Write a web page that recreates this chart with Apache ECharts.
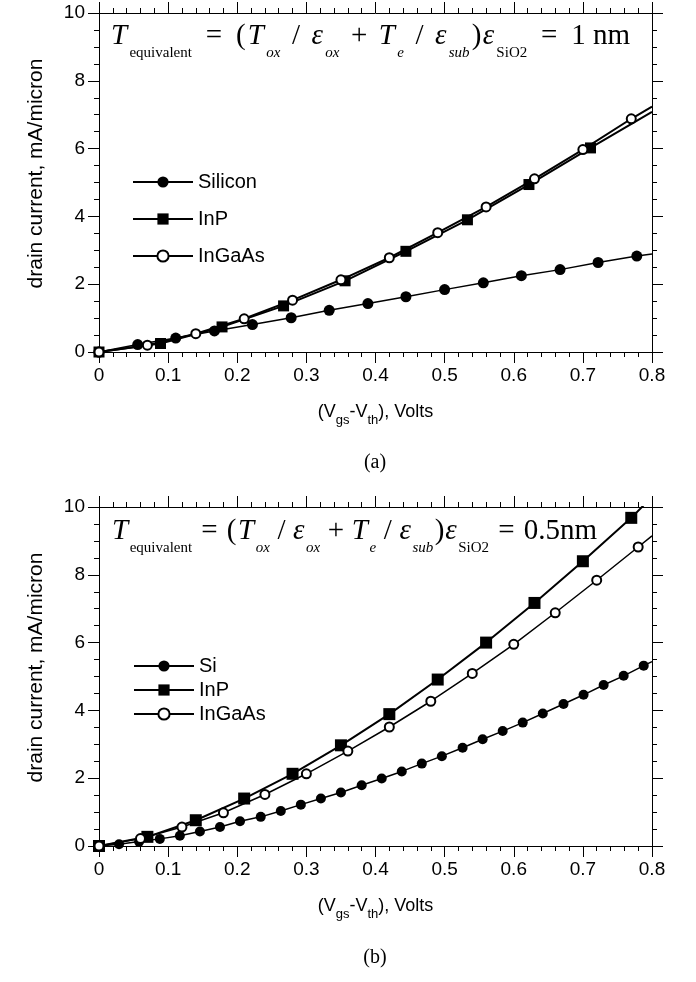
<!DOCTYPE html>
<html>
<head>
<meta charset="utf-8">
<script src="https://cdn.jsdelivr.net/npm/echarts@6/dist/echarts.min.js"></script>
<style>html,body{margin:0;padding:0;background:#fff;}#c{width:696px;height:982px;}</style>
</head>
<body>
<div id="c"></div>
<script>
// ---------- data: panel (a), Tequivalent = 1 nm ----------
const siA_x = [0, 0.056, 0.111, 0.167, 0.222, 0.278, 0.333, 0.389, 0.444, 0.5, 0.556, 0.611, 0.667, 0.722, 0.778];
const siA_y = [0, 0.22, 0.41, 0.62, 0.81, 1.01, 1.23, 1.43, 1.63, 1.84, 2.04, 2.25, 2.43, 2.64, 2.83];
const siA_end = [0.8, 2.89];
const inpA_x = [0, 0.089, 0.178, 0.267, 0.356, 0.444, 0.533, 0.622, 0.711];
const inpA_y = [0, 0.25, 0.74, 1.36, 2.10, 2.97, 3.90, 4.94, 6.02];
const inpA_end = [0.8, 7.08];
const ingaasA_x = [0, 0.07, 0.14, 0.21, 0.28, 0.35, 0.42, 0.49, 0.56, 0.63, 0.70, 0.77];
const ingaasA_y = [0, 0.20, 0.54, 0.98, 1.53, 2.13, 2.78, 3.52, 4.28, 5.11, 5.97, 6.88];
const ingaasA_end = [0.8, 7.24];

// ---------- data: panel (b), Tequivalent = 0.5 nm ----------
const siB_x = [0, 0.029, 0.058, 0.088, 0.117, 0.146, 0.175, 0.204, 0.234, 0.263, 0.292, 0.321, 0.350, 0.380, 0.409, 0.438, 0.467, 0.496, 0.526, 0.555, 0.584, 0.613, 0.642, 0.672, 0.701, 0.730, 0.759, 0.788];
const siB_y = [0, 0.05, 0.13, 0.21, 0.30, 0.43, 0.56, 0.73, 0.86, 1.03, 1.22, 1.40, 1.58, 1.79, 1.99, 2.20, 2.43, 2.65, 2.90, 3.15, 3.39, 3.64, 3.91, 4.19, 4.46, 4.75, 5.02, 5.32];
const siB_end = [0.8, 5.44];
const inpB_x = [0, 0.07, 0.14, 0.21, 0.28, 0.35, 0.42, 0.49, 0.56, 0.63, 0.70, 0.77];
const inpB_y = [0, 0.27, 0.76, 1.40, 2.13, 2.97, 3.89, 4.91, 6.00, 7.17, 8.40, 9.68];
const inpB_end = [0.8, 10.3];
const ingaasB_x = [0, 0.06, 0.12, 0.18, 0.24, 0.30, 0.36, 0.42, 0.48, 0.54, 0.60, 0.66, 0.72, 0.78];
const ingaasB_y = [0, 0.22, 0.56, 0.98, 1.52, 2.13, 2.80, 3.51, 4.27, 5.09, 5.95, 6.88, 7.84, 8.82];
const ingaasB_end = [0.8, 9.15];

// axis ranges / labels
const xRange = [0, 0.8], xStep = 0.1;
const yRange = [0, 10], yStep = 2;
const yAxisTitle = 'drain current, mA/micron';
const captions = ['(a)', '(b)'];

const SANS = '"Liberation Sans", Arial, sans-serif';
const SERIF = '"Liberation Serif", "Times New Roman", serif';

const chart = echarts.init(document.getElementById('c'), null, {renderer: 'canvas'});

const grids = [
  {left: 99, right: 44, top: 13, height: 339},
  {left: 99, right: 44, top: 507, height: 339}
];

function xAx(gi, pos) {
  const main = pos === 'bottom';
  return {
    type: 'value', gridIndex: gi, position: pos, min: xRange[0], max: xRange[1], interval: xStep,
    axisLine: {show: true, onZero: false, lineStyle: {color: '#000', width: 1}},
    axisTick: {show: true, inside: false, length: 11, lineStyle: {color: '#000', width: 1}},
    minorTick: {show: true, splitNumber: 5, length: 5, lineStyle: {color: '#000', width: 1}},
    splitLine: {show: false}, minorSplitLine: {show: false},
    axisLabel: {show: main, margin: 14, fontSize: 19, color: '#000', fontFamily: SANS},
    name: main ? '(V{s|gs}-V{s|th}), Volts' : '',
    nameLocation: 'middle', nameGap: 46,
    nameTextStyle: {fontSize: 18, color: '#000', fontFamily: SANS,
      rich: {s: {fontSize: 13, fontFamily: SANS, color: '#000', padding: [16, 0, 0, 0]}}}
  };
}
function yAx(gi, pos) {
  const main = pos === 'left';
  return {
    type: 'value', gridIndex: gi, position: pos, min: yRange[0], max: yRange[1], interval: yStep,
    axisLine: {show: true, onZero: false, lineStyle: {color: '#000', width: 1}},
    axisTick: {show: true, inside: false, length: 11, lineStyle: {color: '#000', width: 1}},
    minorTick: {show: true, splitNumber: 4, length: 5, lineStyle: {color: '#000', width: 1}},
    splitLine: {show: false}, minorSplitLine: {show: false},
    axisLabel: {show: main, margin: 14, fontSize: 19, color: '#000', fontFamily: SANS},
    name: main ? yAxisTitle : '', nameLocation: 'middle', nameGap: 52, nameRotate: 90,
    nameTextStyle: {fontSize: 21, color: '#000', fontFamily: SANS, padding: [0, 0, 0, 18]}
  };
}

function mk(name, xs, ys, end, gi, symbol, size, lw, z) {
  const data = xs.map((x, i) => [x, ys[i]]);
  data.push({value: end, symbol: 'none'});
  return {
    type: 'line', name: name, xAxisIndex: gi * 2, yAxisIndex: gi * 2, data: data,
    symbol: symbol, symbolSize: size, showSymbol: true, showAllSymbol: true, clip: true,
    lineStyle: {color: '#000', width: lw},
    itemStyle: {color: '#000', borderColor: '#000', borderWidth: symbol === 'emptyCircle' ? 1 : 0},
    emphasis: {disabled: true}, animation: false, z: z
  };
}

const series = [
  mk('Silicon', siA_x, siA_y, siA_end, 0, 'circle', 11, 1.5, 3),
  mk('InP', inpA_x, inpA_y, inpA_end, 0, 'rect', 11, 2, 2),
  mk('InGaAs', ingaasA_x, ingaasA_y, ingaasA_end, 0, 'emptyCircle', 9, 2, 4),
  mk('Si', siB_x, siB_y, siB_end, 1, 'circle', 10, 1.5, 3),
  mk('InP(b)', inpB_x, inpB_y, inpB_end, 1, 'rect', 12, 2, 2),
  mk('InGaAs(b)', ingaasB_x, ingaasB_y, ingaasB_end, 1, 'emptyCircle', 9, 1.5, 4)
];

// ---------- formula layout (measured) ----------
const mctx = document.createElement('canvas').getContext('2d');
function formula(tokens, x0, baseline, targetW) {
  let W = 0, G = 0;
  const ws = tokens.map((t, i) => {
    mctx.font = (t.it ? 'italic ' : '') + t.s + 'px "Liberation Serif"';
    const w = mctx.measureText(t.t).width;
    W += w; if (i > 0) G += t.g; return w;
  });
  const k = (targetW - W) / G;
  let x = x0;
  return tokens.map((t, i) => {
    if (i > 0) x += t.g * k;
    const el = {
      type: 'text', x: x, y: baseline + (t.sub ? 12 : 0) + 0.21 * t.s, z: 100,
      style: {text: t.t, fontSize: t.s, fontFamily: SERIF, fontStyle: t.it ? 'italic' : 'normal',
        fill: '#000', verticalAlign: 'bottom', align: 'left'}
    };
    x += ws[i];
    return el;
  });
}
function ftoks(val) {
  const B = 29, S = 15;
  return [
    {t: 'T', s: B, it: true}, {t: 'equivalent', s: S, sub: true, g: 1},
    {t: '=', s: B, g: 6}, {t: '(', s: B, g: 6}, {t: 'T', s: B, it: true, g: 1}, {t: 'ox', s: S, it: true, sub: true, g: 1},
    {t: '/', s: B, g: 5}, {t: 'ε', s: B, it: true, g: 5}, {t: 'ox', s: S, it: true, sub: true, g: 1},
    {t: '+', s: B, g: 5}, {t: 'T', s: B, it: true, g: 5}, {t: 'e', s: S, it: true, sub: true, g: 1},
    {t: '/', s: B, g: 5}, {t: 'ε', s: B, it: true, g: 5}, {t: 'sub', s: S, it: true, sub: true, g: 1},
    {t: ')', s: B, g: 1}, {t: 'ε', s: B, it: true, g: 0.5}, {t: 'SiO2', s: S, sub: true, g: 1},
    {t: '=', s: B, g: 6}, {t: val, s: B, g: 6}
  ];
}

const graphic = []
  .concat(formula(ftoks('1 nm'), 111, 45, 519))
  .concat(formula(ftoks('0.5nm'), 112, 540, 485))
  .concat([
    {type: 'text', x: 375, y: 463, z: 100, style: {text: captions[0], fontSize: 20, fontFamily: SERIF, fill: '#000', align: 'center', verticalAlign: 'middle'}},
    {type: 'text', x: 375, y: 958, z: 100, style: {text: captions[1], fontSize: 20, fontFamily: SERIF, fill: '#000', align: 'center', verticalAlign: 'middle'}}
  ]);

chart.setOption({
  animation: false,
  backgroundColor: '#fff',
  grid: grids,
  xAxis: [xAx(0, 'bottom'), xAx(0, 'top'), xAx(1, 'bottom'), xAx(1, 'top')],
  yAxis: [yAx(0, 'left'), yAx(0, 'right'), yAx(1, 'left'), yAx(1, 'right')],
  legend: [
    {data: ['Silicon', 'InP', 'InGaAs'], orient: 'vertical', left: 127, top: 167, itemWidth: 60, itemHeight: 14,
      itemGap: 17, selectedMode: false, textStyle: {fontSize: 20, lineHeight: 16, color: '#000', fontFamily: SANS}},
    {data: ['Si', 'InP(b)', 'InGaAs(b)'], orient: 'vertical', left: 128, top: 651, itemWidth: 60, itemHeight: 14,
      itemGap: 4, selectedMode: false, formatter: n => n.replace('(b)', ''),
      textStyle: {fontSize: 20, lineHeight: 16, color: '#000', fontFamily: SANS}}
  ],
  series: series,
  graphic: graphic
});
</script>
</body>
</html>
